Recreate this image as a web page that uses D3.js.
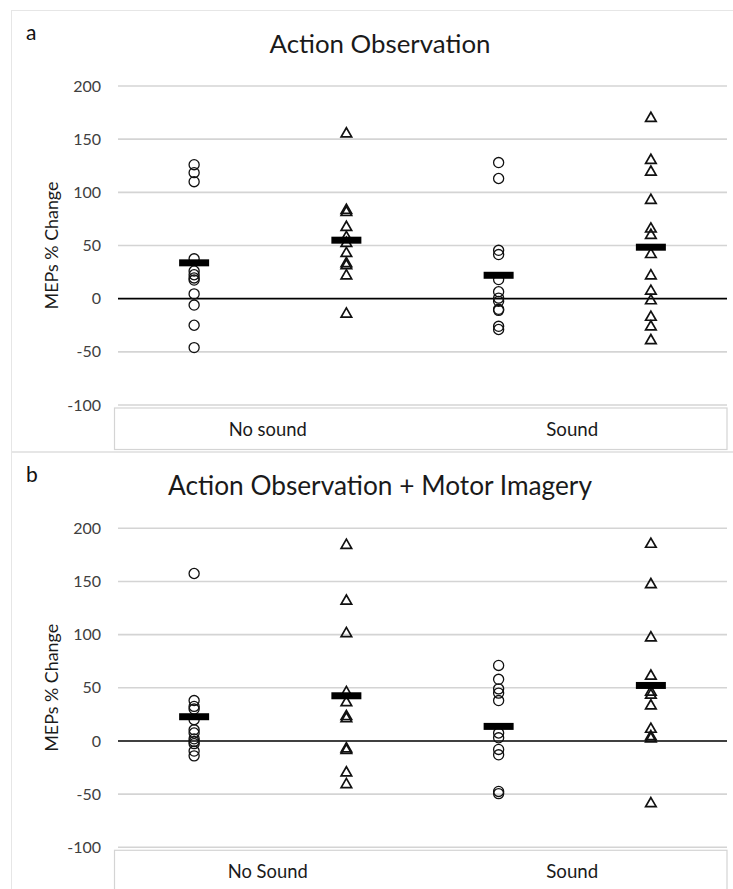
<!DOCTYPE html>
<html>
<head>
<meta charset="utf-8">
<script src="https://cdn.jsdelivr.net/npm/d3@7"></script>
<style>
  body { margin: 0; background: #fff; }
  svg { display: block; font-family: Lato, "Open Sans", sans-serif; }
</style>
</head>
<body>
<svg id="chart" width="733" height="889"></svg>
<script>
// values (MEPs % change)
const yTicks = [200, 150, 100, 50, 0, -50, -100];
const columns = ["noSoundCircle", "noSoundTriangle", "soundCircle", "soundTriangle"];

const aGroups = ["No sound", "Sound"];
const aNoSoundCircle = [126, 118.5, 110, 37.5, 26, 22.5, 19.5, 17.5, 4.5, -6, -25, -46];
const aNoSoundTriangle = [156, 84, 82, 68, 58.5, 53, 43.5, 34, 32, 22.5, -13.5];
const aSoundCircle = [128, 113, 45.5, 41.5, 18, 6.5, 0.5, -2.5, -10, -11, -26, -29];
const aSoundTriangle = [170.5, 131, 120, 93.5, 66.5, 60.5, 42.5, 22.5, 8, -1, -16.5, -25.5, -38.5];
const aMeans = [33.7, 55, 22, 48.4];

const bGroups = ["No Sound", "Sound"];
const bNoSoundCircle = [157.5, 38, 32.5, 30, 20, 10.5, 7.5, 2, -0.5, -2.5, -9.5, -14];
const bNoSoundTriangle = [185, 132.5, 102, 46.5, 37, 24, 22, -6.5, -8, -29, -40];
const bSoundCircle = [71, 58, 49, 45, 38, 7.5, 3, -8, -13, -47.5, -49.5];
const bSoundTriangle = [186, 148, 98, 62, 47, 44, 34, 12, 3, 5, -58];
const bMeans = [22.8, 42.5, 13.7, 52.2];

const svg = d3.select("#chart");

// scale a text's font so it spans roughly the width seen in the figure
function fitWidth(sel, width) {
    const len = sel.node().getComputedTextLength();
    const size = parseFloat(sel.attr("font-size"));
    if (len > 0) sel.attr("font-size", (size * width / len).toFixed(2));
    return sel;
}

function drawPanel(opt) {
    const g = svg.append("g");
    const left = 118, right = 727;

    // panel frame
    g.append("rect")
        .attr("x", 11.5).attr("y", opt.top + 0.5)
        .attr("width", 740).attr("height", opt.height)
        .attr("fill", "none").attr("stroke", "#e6e6e6");

    g.append("text")
        .attr("x", 26).attr("y", opt.top + 30)
        .attr("font-size", 21).attr("fill", "#111")
        .text(opt.label);

    const title = g.append("text")
        .attr("x", 380).attr("y", opt.top + 43)
        .attr("text-anchor", "middle")
        .attr("font-size", 24).attr("fill", "#1a1a1a")
        .text(opt.title);
    fitWidth(title, opt.titleWidth);

    const y = d3.scaleLinear().domain([-100, 200]).range([opt.plotBottom, opt.plotTop]);
    const x = d3.scaleBand().domain(columns).range([left, right]);
    const xg = d3.scaleBand().domain(opt.groups).range([left, right]);

    // gridlines
    g.append("g").selectAll("line")
        .data(yTicks.filter(d => d !== 0))
        .join("line")
        .attr("x1", left).attr("x2", right)
        .attr("y1", d => y(d)).attr("y2", d => y(d))
        .attr("stroke", "#d4d4d4").attr("stroke-width", 1.6);

    // y axis labels
    const yAxis = g.append("g")
        .attr("transform", `translate(${left},0)`)
        .call(d3.axisLeft(y).tickValues(yTicks).tickSize(0).tickPadding(17)
            .tickFormat(d => String(d)));
    yAxis.select(".domain").remove();
    yAxis.selectAll("text")
        .attr("font-family", "Lato, sans-serif")
        .attr("font-size", 16).attr("fill", "#404040");

    // zero line
    g.append("line")
        .attr("x1", left).attr("x2", right)
        .attr("y1", y(0)).attr("y2", y(0))
        .attr("stroke", "#000").attr("stroke-width", 1.6);

    const yLabel = g.append("text")
        .attr("transform", `translate(58,${(opt.plotTop + opt.plotBottom) / 2}) rotate(-90)`)
        .attr("text-anchor", "middle")
        .attr("font-size", 18).attr("fill", "#1a1a1a")
        .text("MEPs % Change");
    fitWidth(yLabel, 128);

    // category box
    g.append("rect")
        .attr("x", 114.5).attr("y", y(-100) + 3)
        .attr("width", right - 114.5).attr("height", opt.boxHeight)
        .attr("fill", "none").attr("stroke", "#d4d4d4").attr("stroke-width", 1.2);

    g.append("g").selectAll("text")
        .data(opt.groups)
        .join("text")
        .attr("x", d => xg(d) + xg.bandwidth() / 2 - 2.5)
        .attr("y", y(-100) + 31)
        .attr("text-anchor", "middle")
        .attr("font-size", 16).attr("fill", "#1a1a1a")
        .text(d => d)
        .each(function(d, i) { fitWidth(d3.select(this), opt.groupWidths[i]); });

    // points
    const circle = d3.symbol().type(d3.symbolCircle).size(80);
    const tri = d3.symbol().type(d3.symbolTriangle).size(48);
    opt.series.forEach((vals, i) => {
        const cx = x(columns[i]) + x.bandwidth() / 2;
        g.append("g").selectAll("path")
            .data(vals)
            .join("path")
            .attr("d", i % 2 === 0 ? circle : tri)
            .attr("transform", d => `translate(${cx},${y(d) + (i % 2 ? 1 : 0)})`)
            .attr("fill", "none")
            .attr("stroke", "#111")
            .attr("stroke-width", i % 2 ? 1.7 : 1.3);
    });

    // mean bars
    g.append("g").selectAll("rect")
        .data(opt.means)
        .join("rect")
        .attr("x", (d, i) => x(columns[i]) + x.bandwidth() / 2 - 15)
        .attr("y", d => y(d) - 3.5)
        .attr("width", 30).attr("height", 7)
        .attr("fill", "#000");
}

drawPanel({
    top: 10, height: 441, label: "a", title: "Action Observation", titleWidth: 221,
    plotTop: 86, plotBottom: 405, boxHeight: 41.5, groups: aGroups, groupWidths: [78, 52],
    series: [aNoSoundCircle, aNoSoundTriangle, aSoundCircle, aSoundTriangle],
    means: aMeans
});

drawPanel({
    top: 452, height: 460, label: "b", title: "Action Observation + Motor Imagery", titleWidth: 424,
    plotTop: 528.3, plotBottom: 847.3, boxHeight: 60, groups: bGroups, groupWidths: [80, 52],
    series: [bNoSoundCircle, bNoSoundTriangle, bSoundCircle, bSoundTriangle],
    means: bMeans
});
</script>
</body>
</html>
